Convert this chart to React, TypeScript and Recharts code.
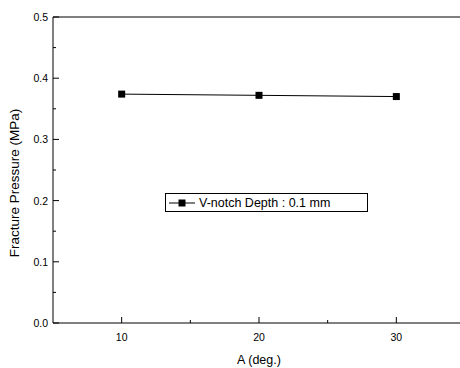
import React from "react";
import {
  LineChart,
  Line,
  XAxis,
  YAxis,
  Legend,
} from "recharts";

const angles = [10, 20, 30];
const pressure = [0.374, 0.372, 0.37];
const xTicks = [10, 15, 20, 25, 30];
const xMajor = [10, 20, 30];
const yTicks = [0, 0.05, 0.1, 0.15, 0.2, 0.25, 0.3, 0.35, 0.4, 0.45, 0.5];
const yMajor = ["0.0", "0.1", "0.2", "0.3", "0.4", "0.5"];
const seriesName = "V-notch Depth : 0.1 mm";

const data = angles.map((a, i) => ({ angle: a, pressure: pressure[i] }));

const FONT = "'Liberation Sans', Arial, sans-serif";

function XTick(props: any) {
  const { x, y, payload } = props;
  const major = xMajor.includes(payload.value);
  return (
    <g>
      <line x1={x} y1={y} x2={x} y2={y - (major ? 6 : 3)} stroke="#000" />
      {major && (
        <text x={x} y={y + 18} textAnchor="middle" fontSize={10.5} fontFamily={FONT} fill="#000">
          {payload.value}
        </text>
      )}
    </g>
  );
}

function YTick(props: any) {
  const { x, y, payload } = props;
  const label = Number(payload.value).toFixed(1);
  const major = yMajor.includes(label) && Math.abs(payload.value * 10 - Math.round(payload.value * 10)) < 1e-6;
  return (
    <g>
      <line x1={x} y1={y} x2={x + (major ? 6 : 3)} y2={y} stroke="#000" />
      {major && (
        <text x={x - 5} y={y + 4} textAnchor="end" fontSize={10.5} fontFamily={FONT} fill="#000">
          {label}
        </text>
      )}
    </g>
  );
}

function SquareDot(props: any) {
  const { cx, cy } = props;
  return <rect x={cx - 3.5} y={cy - 3.5} width={7} height={7} fill="#000" />;
}

function LegendBox() {
  return (
    <div
      style={{
        border: "1px solid #000",
        height: 17,
        display: "flex",
        alignItems: "center",
        fontFamily: FONT,
        fontSize: 12.5,
        color: "#000",
        background: "#fff",
        whiteSpace: "nowrap",
      }}
    >
      <svg width={26} height={10} style={{ marginLeft: 3, marginRight: 4 }}>
        <line x1={0} y1={5} x2={26} y2={5} stroke="#000" />
        <rect x={9.5} y={1.5} width={7} height={7} fill="#000" />
      </svg>
      {seriesName}
    </div>
  );
}

export default function App() {
  return (
    <div style={{ position: "absolute", left: 0, top: 0, width: 460, height: 368, overflow: "hidden", background: "#fff" }}>
      <LineChart
        width={470}
        height={368}
        data={data}
        margin={{ top: 16, right: 5, bottom: 0, left: 0 }}
      >
        <XAxis
          dataKey="angle"
          type="number"
          domain={[5, 35]}
          ticks={xTicks}
          interval={0}
          tickSize={0}
          tickMargin={0}
          tickLine={false}
          tick={<XTick />}
          height={45}
          stroke="#000"
          label={{
            content: (p: any) => {
              const vb = p.viewBox;
              return (
                <text x={vb.x + vb.width / 2} y={vb.y + 41} textAnchor="middle" fontSize={12.5} fontFamily={FONT} fill="#000">
                  A (deg.)
                </text>
              );
            },
          }}
        />
        <XAxis xAxisId="top" orientation="top" dataKey="angle" type="number" domain={[5, 35]} tick={false} tickLine={false} height={1} stroke="#000" />
        <YAxis
          type="number"
          domain={[0, 0.5]}
          ticks={yTicks}
          interval={0}
          width={53}
          tickSize={0}
          tickMargin={0}
          tickLine={false}
          tick={<YTick />}
          stroke="#000"
          label={{
            content: () => (
              <text transform="translate(19,183) rotate(-90)" textAnchor="middle" fontSize={13.5} fontFamily={FONT} fill="#000">
                Fracture Pressure (MPa)
              </text>
            ),
          }}
        />
        <Legend
          verticalAlign="middle"
          layout="horizontal"
          content={() => <LegendBox />}
          wrapperStyle={{ position: "absolute", left: 165, top: 193, width: 203, bottom: "auto" }}
        />
        <Line
          dataKey="pressure"
          name={seriesName}
          stroke="#000"
          strokeWidth={1}
          dot={<SquareDot />}
          activeDot={false}
          isAnimationActive={false}
        />
      </LineChart>
    </div>
  );
}
